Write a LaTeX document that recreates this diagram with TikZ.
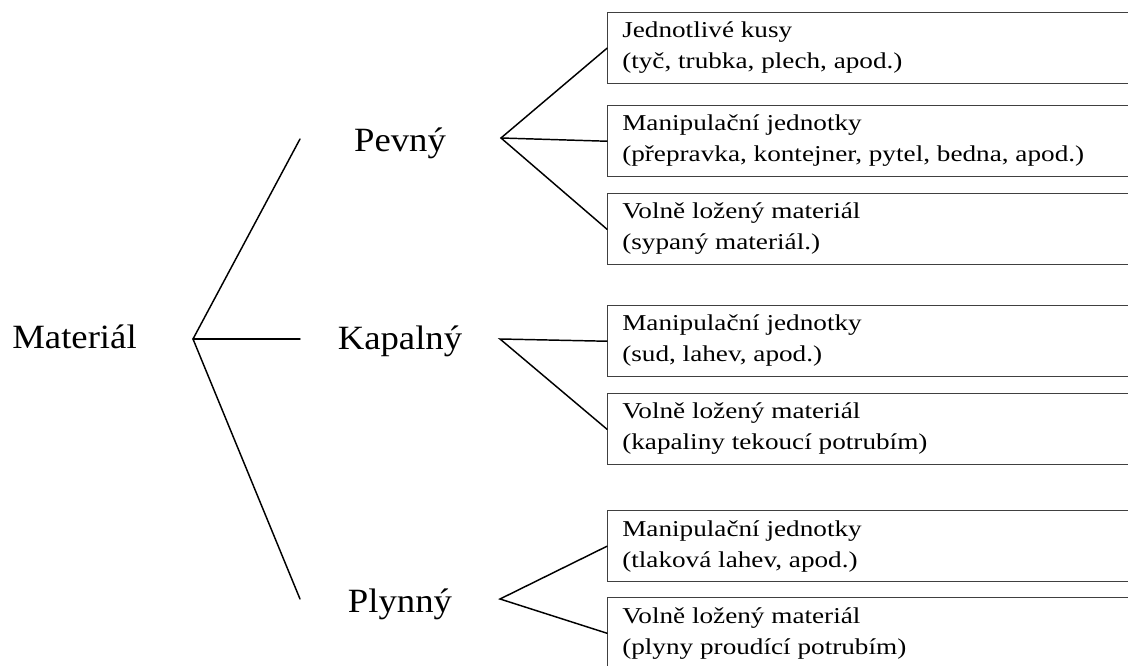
\documentclass[tikz,border=0pt]{standalone}
\usepackage{fontspec}
\setmainfont{Liberation Serif}
\newfontfamily\classfont[FakeStretch=1.08]{Liberation Serif}
\newfontfamily\itemfont[FakeStretch=1.2]{Liberation Serif}
\usetikzlibrary{calc}

\tikzset{
  branch/.style={line width=1.1pt, black, line cap=round},
  classlabel/.style={font=\classfont\fontsize{25.5}{30}\selectfont, inner sep=0pt, anchor=base},
  itembox/.style={draw=black!75, line width=1.1pt, rectangle, anchor=north west,
                  minimum width=450pt, minimum height=53.25pt, inner sep=0pt},
  itemtext/.style={font=\itemfont\fontsize{17}{20}\selectfont, inner sep=0pt, anchor=base west},
}

\begin{document}
\begin{tikzpicture}[x=0.75pt, y=-0.75pt]
  \useasboundingbox (0,0) rectangle (1128,666);
  \clip (0,0) rectangle (1128,666);

  % class labels
  \node[classlabel] (mat) at (74.5,349) {Materiál};
  \node[classlabel] (pevny) at (400,152) {Pevný};
  \node[classlabel] (kapalny) at (400,350) {Kapalný};
  \node[classlabel] (plynny) at (400,612) {Plynný};

  % boxes on the right (open towards the right edge)
  \node[itembox] (b1) at (607,12) {};
  \node[itembox] (b2) at (607,105) {};
  \node[itembox] (b3) at (607,193) {};
  \node[itembox] (b4) at (607,305) {};
  \node[itembox] (b5) at (607,393) {};
  \node[itembox] (b6) at (607,510) {};
  \node[itembox] (b7) at (607,597) {};

  % box texts
  \node[itemtext] (t1a) at ($(b1.north west)+(15,26)$) {Jednotlivé kusy};
  \node[itemtext] (t1b) at ($(b1.north west)+(15,57)$) {(tyč, trubka, plech, apod.)};
  \node[itemtext] (t2a) at ($(b2.north west)+(15,26)$) {Manipulační jednotky};
  \node[itemtext] (t2b) at ($(b2.north west)+(15,57)$) {(přepravka, kontejner, pytel, bedna, apod.)};
  \node[itemtext] (t3a) at ($(b3.north west)+(15,26)$) {Volně ložený materiál};
  \node[itemtext] (t3b) at ($(b3.north west)+(15,57)$) {(sypaný materiál.)};
  \node[itemtext] (t4a) at ($(b4.north west)+(15,26)$) {Manipulační jednotky};
  \node[itemtext] (t4b) at ($(b4.north west)+(15,57)$) {(sud, lahev, apod.)};
  \node[itemtext] (t5a) at ($(b5.north west)+(15,26)$) {Volně ložený materiál};
  \node[itemtext] (t5b) at ($(b5.north west)+(15,57)$) {(kapaliny tekoucí potrubím)};
  \node[itemtext] (t6a) at ($(b6.north west)+(15,26)$) {Manipulační jednotky};
  \node[itemtext] (t6b) at ($(b6.north west)+(15,57)$) {(tlaková lahev, apod.)};
  \node[itemtext] (t7a) at ($(b7.north west)+(15,26)$) {Volně ložený materiál};
  \node[itemtext] (t7b) at ($(b7.north west)+(15,57)$) {(plyny proudící potrubím)};

  % branching points
  \coordinate (mfork) at (193,339);
  \coordinate (pe) at (300,139);
  \coordinate (ka) at (300,339);
  \coordinate (pl) at (300,599);
  \coordinate (pfork) at (501,138);
  \coordinate (kfork) at (500,339);
  \coordinate (gfork) at (500,599);

  % main fan
  \draw[branch] (pe) -- (mfork) -- (pl);
  \draw[branch] (mfork) -- (ka);

  % fans towards the boxes
  \draw[branch] (b1.west) -- (pfork) -- (b3.west);
  \draw[branch] (pfork) -- (b2.west);
  \draw[branch] (b4.west) -- (kfork) -- (b5.west);
  \draw[branch] (b6.west) -- (gfork) -- (b7.west);
\end{tikzpicture}
\end{document}
